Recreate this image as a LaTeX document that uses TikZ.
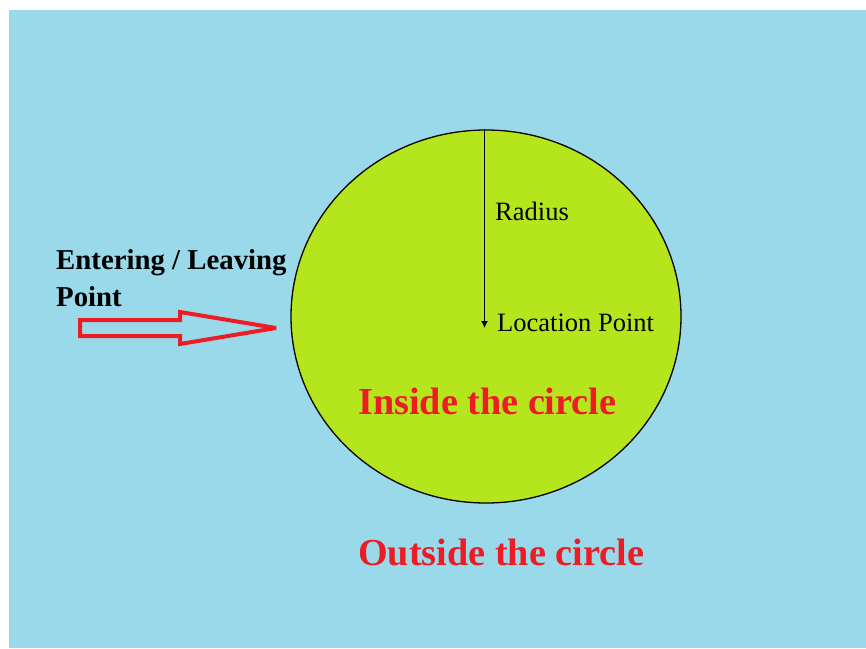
\documentclass[tikz,border=0pt]{standalone}
\usepackage{fontspec}
\setmainfont{Liberation Serif}
\usetikzlibrary{shapes.geometric,arrows.meta}
\definecolor{skyblue}{RGB}{153,217,234}
\definecolor{limegreen}{RGB}{181,230,29}
\definecolor{paintred}{RGB}{237,28,36}
\begin{document}
\begin{tikzpicture}[x=1pt,y=-1pt,
    lbl/.style={anchor=base west,inner sep=0pt,font=\fontsize{26.5}{26.5}\selectfont},
    boldlbl/.style={anchor=base west,inner sep=0pt,font=\fontsize{28.8}{28.8}\selectfont\bfseries},
    biglbl/.style={anchor=base west,inner sep=0pt,text=paintred,font=\fontsize{38.2}{38.2}\selectfont\bfseries}]
    \useasboundingbox[fill=white] (0,0) rectangle (866,648);
    \fill[skyblue] (9,10) rectangle (866,648);
    % the circle round the location point
    \node[ellipse,draw,line width=1.3pt,fill=limegreen,minimum width=390,minimum height=373,inner sep=0pt]
        (circ) at (486,316.5) {};
    \coordinate (loc) at (484.5,328);
    \draw[line width=1.3pt,-{Latex[length=7pt,width=7pt]}] (circ.north -| loc) -- (loc);
    \node[lbl] (radius) at (495,220) {Radius};
    \node[lbl] (locpt) at (497,331) {Location Point};
    % entering / leaving arrow
    \draw[paintred,line width=4pt,line join=miter,miter limit=3] (80,320)
        -- (180,320)
        -- (180,312)
        -- (276,328)
        -- (180,344)
        -- (180,336)
        -- (80,336) -- cycle;
    \node[boldlbl] (enter) at (56,269) {Entering / Leaving};
    \node[boldlbl] (point) at (56,306) {Point};
    \node[biglbl] (inside) at (358,414) {Inside the circle};
    \node[biglbl] (outside) at (358,565) {Outside the circle};
\end{tikzpicture}
\end{document}
